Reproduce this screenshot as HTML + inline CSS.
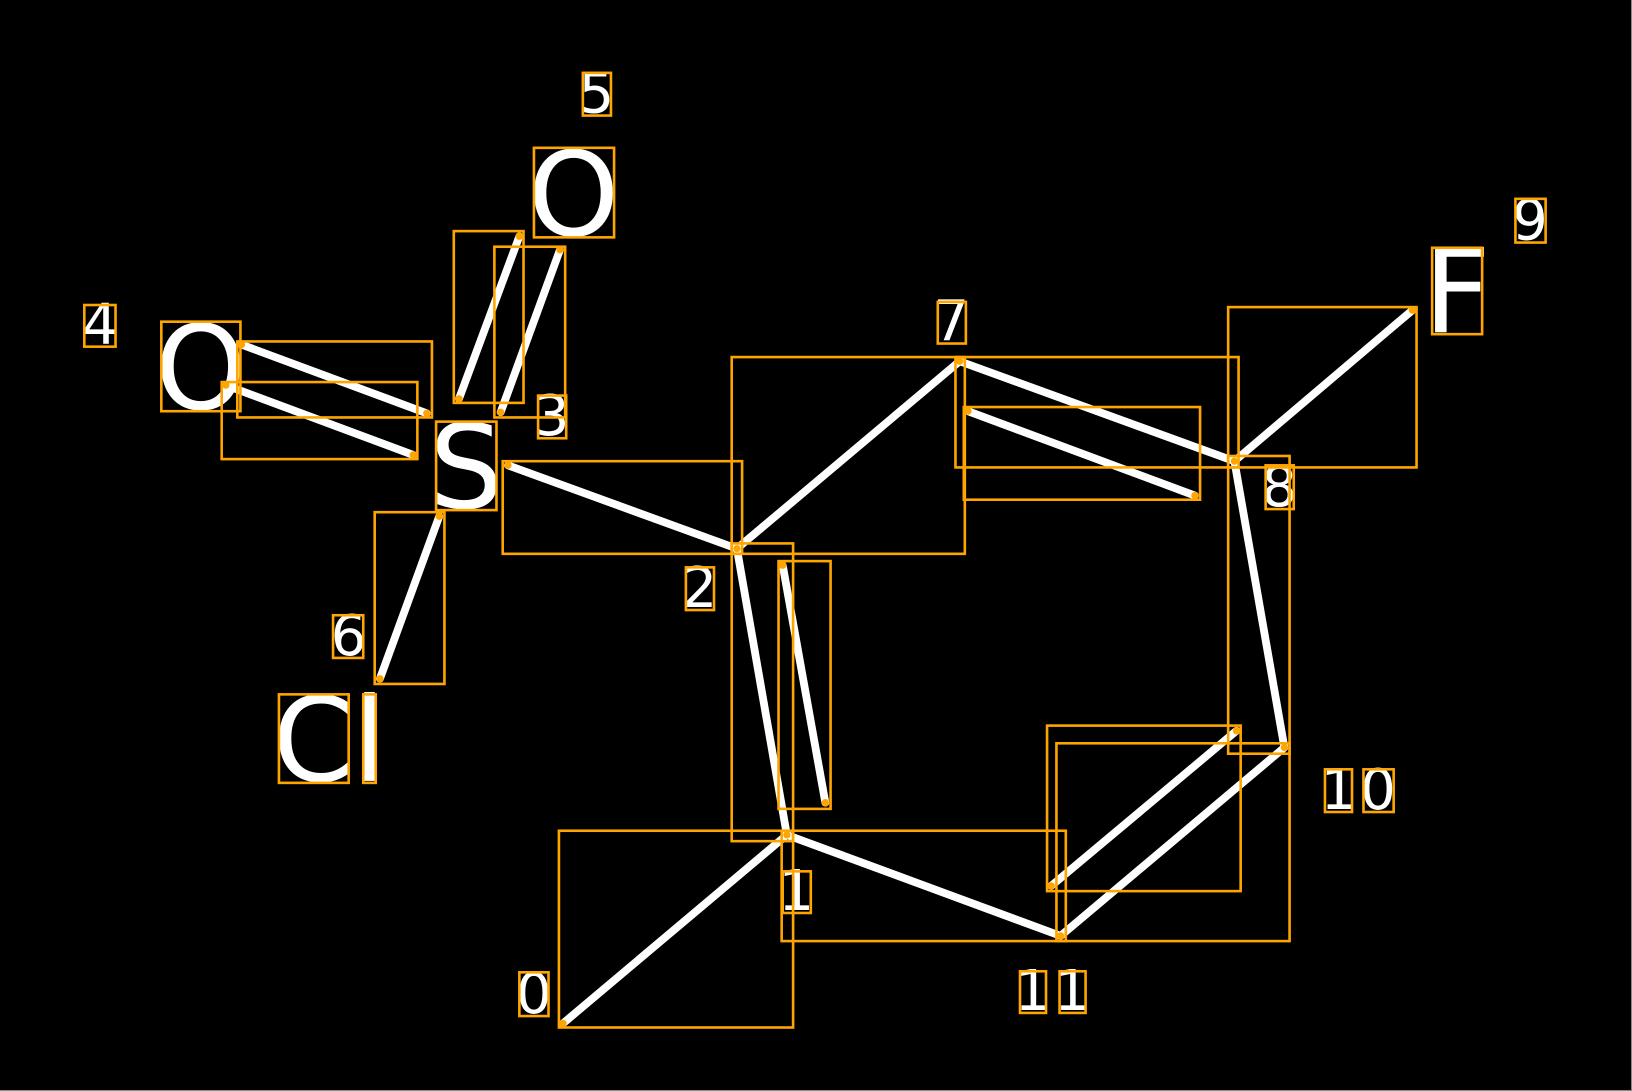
<!DOCTYPE html>
<html><head><meta charset="utf-8"><style>html,body{margin:0;padding:0;background:#000;}svg{display:block}</style></head>
<body>
<svg width="1632" height="1091" viewBox="0 0 1568 1048" preserveAspectRatio="none" xmlns="http://www.w3.org/2000/svg">
<rect width="1568" height="1048" fill="#000"/>
<line x1="0" y1="1047.5" x2="1568" y2="1047.5" stroke="#888" stroke-width="1"/>
<line x1="1567.5" y1="0" x2="1567.5" y2="1048" stroke="#888" stroke-width="1"/>
<g stroke="#fff" stroke-width="7.5" stroke-linecap="round">
<line x1="441" y1="383" x2="499" y2="227"/>
<line x1="481" y1="396" x2="538" y2="240"/>
<line x1="232" y1="331" x2="410" y2="397"/>
<line x1="217" y1="370" x2="397" y2="437"/>
<line x1="488" y1="447" x2="708" y2="527"/>
<line x1="422" y1="496" x2="365" y2="652"/>
<line x1="708" y1="527" x2="922" y2="347"/>
<line x1="922" y1="347" x2="1186" y2="443"/>
<line x1="930" y1="395" x2="1148" y2="476"/>
<line x1="1186" y1="443" x2="1357" y2="298"/>
<line x1="1186" y1="443" x2="1234" y2="718"/>
<line x1="1234" y1="718" x2="1019" y2="899"/>
<line x1="1188" y1="702" x2="1010" y2="851"/>
<line x1="1019" y1="899" x2="756" y2="802"/>
<line x1="756" y1="802" x2="541" y2="983"/>
<line x1="708" y1="527" x2="756" y2="802"/>
<line x1="752" y1="543" x2="793" y2="771"/>
</g>
<g fill="#fff" font-family="DejaVu Sans, Liberation Sans, sans-serif" text-anchor="middle">
<text x="573" y="108" font-size="54">5</text>
<text x="551" y="226" font-size="112">O</text>
<text x="530" y="418" font-size="54">3</text>
<text x="96" y="330" font-size="54">4</text>
<text x="193" y="393" font-size="112">O</text>
<text x="448" y="488" font-size="112">S</text>
<text x="335" y="629" font-size="54">6</text>
<text x="301" y="750" font-size="112">C</text>
<text x="355" y="750" font-size="112">l</text>
<text x="914" y="327" font-size="54">7</text>
<text x="1400" y="319" font-size="112">F</text>
<text x="1470" y="230" font-size="54">9</text>
<text x="1229" y="486" font-size="54">8</text>
<text x="1286" y="777" font-size="54">1</text>
<text x="1324" y="777" font-size="54">0</text>
<text x="992" y="970" font-size="54">1</text>
<text x="1030" y="970" font-size="54">1</text>
<text x="513" y="973" font-size="54">0</text>
<text x="765" y="874" font-size="54">1</text>
<text x="672" y="583" font-size="54">2</text>
</g>
<g fill="none" stroke="#FFA500" stroke-width="2.5">
<rect x="560" y="70" width="27" height="41"/>
<rect x="513" y="142" width="77" height="86"/>
<rect x="436" y="222" width="67" height="165"/>
<rect x="475" y="237" width="68" height="164"/>
<rect x="517" y="380" width="27" height="41"/>
<rect x="81" y="293" width="30" height="40"/>
<rect x="155" y="309" width="76" height="86"/>
<rect x="228" y="328" width="187" height="73"/>
<rect x="213" y="367" width="188" height="74"/>
<rect x="419" y="405" width="58" height="85"/>
<rect x="483" y="443" width="230" height="89"/>
<rect x="360" y="492" width="67" height="165"/>
<rect x="320" y="591" width="29" height="41"/>
<rect x="268" y="667" width="67" height="85"/>
<rect x="349" y="667" width="12" height="85"/>
<rect x="703" y="343" width="224" height="189"/>
<rect x="918" y="343" width="272" height="106"/>
<rect x="926" y="391" width="227" height="89"/>
<rect x="901" y="290" width="27" height="40"/>
<rect x="1376" y="238" width="48" height="83"/>
<rect x="1180" y="295" width="181" height="154"/>
<rect x="1456" y="191" width="29" height="42"/>
<rect x="1216" y="447" width="27" height="42"/>
<rect x="1180" y="438" width="59" height="286"/>
<rect x="1273" y="739" width="26" height="41"/>
<rect x="1310" y="739" width="29" height="41"/>
<rect x="1015" y="714" width="224" height="190"/>
<rect x="1006" y="697" width="186" height="159"/>
<rect x="751" y="798" width="273" height="106"/>
<rect x="980" y="933" width="25" height="40"/>
<rect x="1018" y="933" width="25" height="40"/>
<rect x="537" y="798" width="225" height="189"/>
<rect x="499" y="934" width="28" height="42"/>
<rect x="703" y="522" width="59" height="286"/>
<rect x="748" y="539" width="50" height="238"/>
<rect x="752" y="837" width="27" height="40"/>
<rect x="659" y="545" width="27" height="41"/>
</g>
<g fill="#FFA500">
<circle cx="441" cy="383" r="3.5"/><circle cx="499" cy="227" r="3.5"/>
<circle cx="481" cy="396" r="3.5"/><circle cx="538" cy="240" r="3.5"/>
<circle cx="232" cy="331" r="3.5"/><circle cx="410" cy="397" r="3.5"/>
<circle cx="217" cy="370" r="3.5"/><circle cx="397" cy="437" r="3.5"/>
<circle cx="488" cy="447" r="3.5"/><circle cx="708" cy="527" r="3.5"/>
<circle cx="422" cy="496" r="3.5"/><circle cx="365" cy="652" r="3.5"/>
<circle cx="922" cy="347" r="3.5"/><circle cx="1186" cy="443" r="3.5"/>
<circle cx="930" cy="395" r="3.5"/><circle cx="1148" cy="476" r="3.5"/>
<circle cx="1357" cy="298" r="3.5"/><circle cx="1234" cy="718" r="3.5"/>
<circle cx="1019" cy="899" r="3.5"/><circle cx="1188" cy="702" r="3.5"/>
<circle cx="1010" cy="851" r="3.5"/><circle cx="756" cy="802" r="3.5"/>
<circle cx="541" cy="983" r="3.5"/><circle cx="752" cy="543" r="3.5"/>
<circle cx="793" cy="771" r="3.5"/>
</g>
</svg>
</body></html>
